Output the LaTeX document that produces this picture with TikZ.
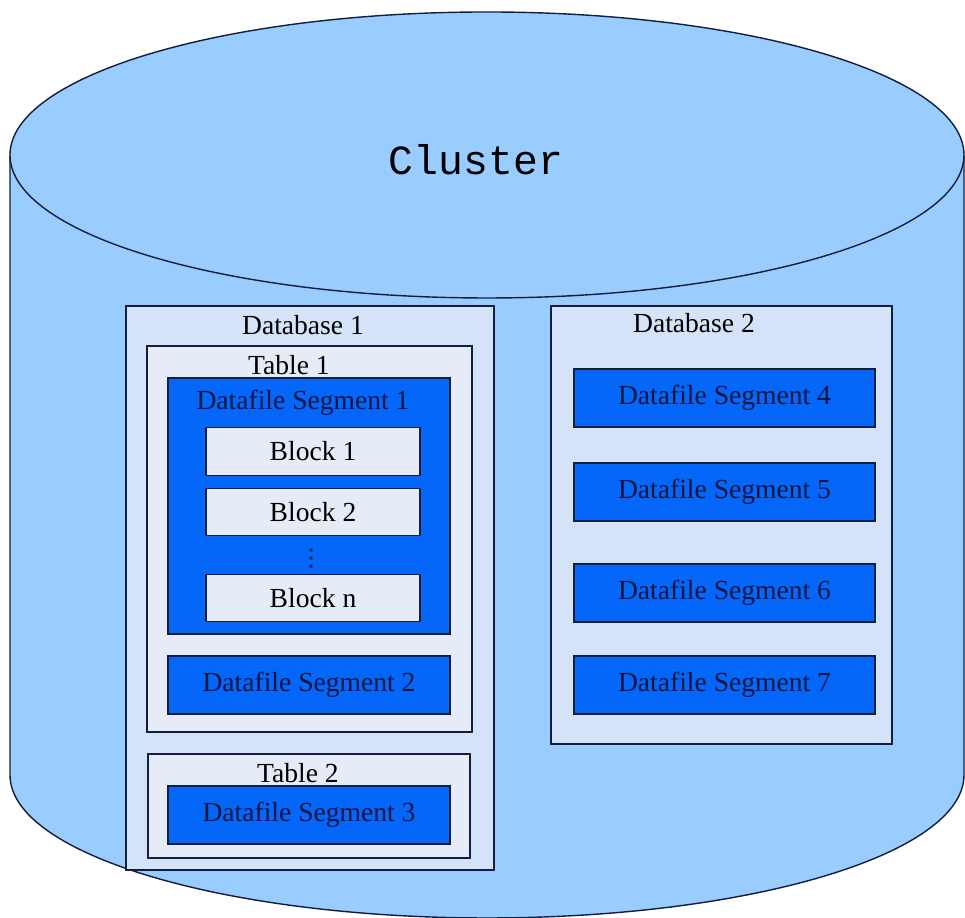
\documentclass[tikz,border=0pt]{standalone}
\usepackage{fontspec}
\setmainfont{Liberation Serif}
\setmonofont{Liberation Mono}
\usepackage{tikz}
\usetikzlibrary{positioning}
\usepackage{xcolor}

\definecolor{clusterblue}{RGB}{153,204,255}
\definecolor{dbfill}{RGB}{212,227,247}
\definecolor{tabfill}{RGB}{230,236,247}
\definecolor{segblue}{RGB}{5,102,250}
\definecolor{edgenavy}{RGB}{20,30,60}
\definecolor{segtext}{RGB}{10,20,60}

\begin{document}
\begin{tikzpicture}[x=0.02cm, y=0.02cm]
				\tikzstyle{box} = [draw=edgenavy, line width=0.8pt, rectangle, inner sep=0pt, font=\fontsize{15.7}{18}\selectfont]
				\tikzstyle{db} = [box, fill=dbfill]
				\tikzstyle{tab} = [box, fill=tabfill]
				\tikzstyle{seg} = [box, fill=segblue, text=segtext]
				\tikzstyle{blk} = [box, fill=tabfill, minimum width=4.28cm, minimum height=0.95cm]
				\tikzstyle{invis} = [draw=none, inner sep=0pt, font=\fontsize{15.7}{18}\selectfont]
				
				\useasboundingbox (0,0) rectangle (965,918);
				
				% the cluster drum
				\fill[clusterblue] (10,763) -- (10,143) arc[start angle=180, end angle=360, x radius=477, y radius=143] -- (964,763) -- cycle;
				\draw[edgenavy, line width=0.8pt] (10,763) -- (10,143) arc[start angle=180, end angle=360, x radius=477, y radius=143] -- (964,763);
				\draw[edgenavy, line width=0.8pt, fill=clusterblue] (487,763) ellipse [x radius=477, y radius=143];
				\node[invis, font=\ttfamily\fontsize{23.6}{28}\selectfont] at (476, 758) (cluster) {Cluster};
				
				% database 1
				\node[db, minimum width=7.36cm, minimum height=11.28cm]	at (310, 330)		(db1)	{};
				\node[invis]		at (303, 593)	(db1l)	{Database 1};
				\node[tab, minimum width=6.5cm, minimum height=7.72cm]	at (309.5, 379)	(tab1)	{};
				\node[invis]		at (289, 553)	(tab1l)	{Table 1};
				\node[seg, minimum width=5.64cm, minimum height=5.12cm]	at (309, 412)		(seg1)	{};
				\node[invis, text=segtext]	at (303, 515)	(seg1l)	{Datafile Segment 1};
				\node[blk]			at (313, 466.5)	(blk1)	{Block 1};
				\node[blk]			at (313, 406)		(blk2)	{Block 2};
				\node[blk]			at (313, 320)		(blkn)	{Block n};
				\foreach \y in {352, 360, 368}
					\fill[edgenavy] (311, \y) circle (1.8);
				\node[seg, minimum width=5.64cm, minimum height=1.16cm]	at (309, 233)		(seg2)	{Datafile Segment 2};
				\node[tab, minimum width=6.44cm, minimum height=2.08cm]	at (309, 112)		(tab2)	{};
				\node[invis]		at (298, 145)	(tab2l)	{Table 2};
				\node[seg, minimum width=5.64cm, minimum height=1.16cm]	at (309, 103)		(seg3)	{Datafile Segment 3};
				
				% database 2
				\node[db, minimum width=6.82cm, minimum height=8.76cm]	at (721.5, 393)	(db2)	{};
				\node[invis]		at (694, 595)	(db2l)	{Database 2};
				\node[seg, minimum width=6.02cm, minimum height=1.16cm]	at (724.5, 520)	(seg4)	{Datafile Segment 4};
				\node[seg, minimum width=6.02cm, minimum height=1.16cm]	at (724.5, 426)	(seg5)	{Datafile Segment 5};
				\node[seg, minimum width=6.02cm, minimum height=1.16cm]	at (724.5, 325)	(seg6)	{Datafile Segment 6};
				\node[seg, minimum width=6.02cm, minimum height=1.16cm]	at (724.5, 233)	(seg7)	{Datafile Segment 7};
			\end{tikzpicture}
\end{document}
